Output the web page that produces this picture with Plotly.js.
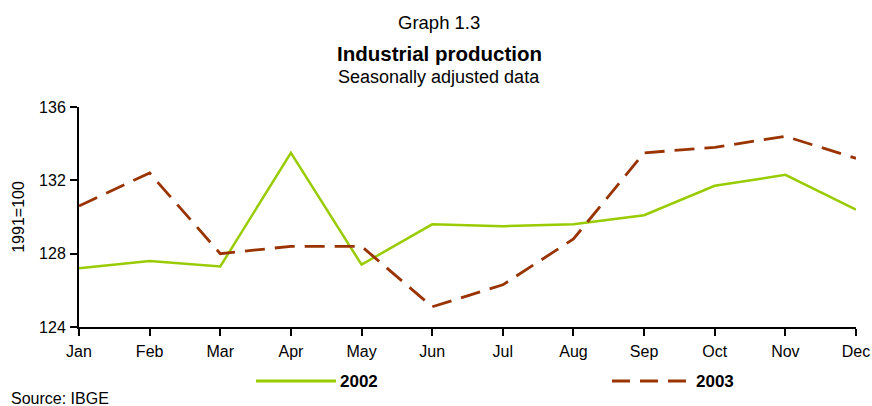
<!DOCTYPE html>
<html>
<head>
<meta charset="utf-8">
<script src="https://cdn.plot.ly/plotly-3.0.1.min.js"></script>
<style>
  html, body { margin: 0; padding: 0; background: #fff; }
  #chart { width: 872px; height: 406px; }
</style>
</head>
<body>
<div id="chart"></div>
<script>
// Industrial production index, seasonally adjusted (1991=100)
const months = ["Jan", "Feb", "Mar", "Apr", "May", "Jun", "Jul", "Aug", "Sep", "Oct", "Nov", "Dec"];
const prod2002 = [127.2, 127.6, 127.3, 133.5, 127.4, 129.6, 129.5, 129.6, 130.1, 131.7, 132.3, 130.4];
const prod2003 = [130.6, 132.4, 128.0, 128.4, 128.4, 125.1, 126.3, 128.8, 133.5, 133.8, 134.4, 133.2];
const yTicks = [124, 128, 132, 136];

const green = "#99CC00";
const brown = "#993300";
const font = "Liberation Sans, Arial, sans-serif";

// plot area in pixels, used to place the hand-drawn legend and header texts
const plotL = 79, plotW = 777, plotH = 220;
const px = v => (v - plotL) / plotW;

const traces = [
  {
    x: months, y: prod2002, name: "2002", type: "scatter", mode: "lines",
    line: { color: green, width: 2.5 }, showlegend: false
  },
  {
    x: months, y: prod2003, name: "2003", type: "scatter", mode: "lines",
    line: { color: brown, width: 2.8, dash: "20px,10px" }, showlegend: false
  }
];

const layout = {
  width: 872, height: 406,
  margin: { l: plotL, r: 16, t: 107, b: 79 },
  paper_bgcolor: "#fff", plot_bgcolor: "#fff",
  font: { family: font, size: 16, color: "#000" },
  xaxis: {
    type: "category", range: [0, 11],
    showline: true, linecolor: "#000", linewidth: 2,
    ticks: "outside", ticklen: 7, tickwidth: 2, tickcolor: "#000",
    showgrid: false, zeroline: false,
    tickfont: { family: font, size: 16 }, ticklabelstandoff: 2
  },
  yaxis: {
    range: [124, 136], tickvals: yTicks, ticktext: yTicks.map(String),
    showline: true, linecolor: "#000", linewidth: 2,
    ticks: "outside", ticklen: 7, tickwidth: 2, tickcolor: "#000",
    showgrid: false, zeroline: false,
    tickfont: { family: font, size: 16 }, ticklabelstandoff: 1,
    title: { text: "1991=100", font: { family: font, size: 16 }, standoff: 10 }
  },
  annotations: [
    { text: "Graph 1.3", xref: "paper", yref: "paper", x: px(439), y: 1, xanchor: "center", yanchor: "middle",
      yshift: 85, showarrow: false, font: { family: font, size: 18.5 } },
    { text: "<b>Industrial production</b>", xref: "paper", yref: "paper", x: px(439), y: 1, xanchor: "center", yanchor: "middle",
      yshift: 54, showarrow: false, font: { family: font, size: 20.5 } },
    { text: "Seasonally adjusted data", xref: "paper", yref: "paper", x: px(439), y: 1, xanchor: "center", yanchor: "middle",
      yshift: 30, showarrow: false, font: { family: font, size: 18 } },
    { text: "<b>2002</b>", xref: "paper", yref: "paper", x: px(338), y: 0, xanchor: "left", yanchor: "middle",
      yshift: -54, showarrow: false, font: { family: font, size: 17 } },
    { text: "<b>2003</b>", xref: "paper", yref: "paper", x: px(694), y: 0, xanchor: "left", yanchor: "middle",
      yshift: -54, showarrow: false, font: { family: font, size: 17 } },
    { text: "Source: IBGE", xref: "paper", yref: "paper", x: px(9), y: 0, xanchor: "left", yanchor: "middle",
      yshift: -71, showarrow: false, font: { family: font, size: 16 } }
  ],
  shapes: [
    { type: "line", xref: "paper", yref: "paper",
      x0: px(256), x1: px(336), y0: -54 / plotH, y1: -54 / plotH,
      line: { color: green, width: 3 } },
    { type: "line", xref: "paper", yref: "paper",
      x0: px(612), x1: px(686), y0: -54 / plotH, y1: -54 / plotH,
      line: { color: brown, width: 3, dash: "18px,10px" } }
  ]
};

Plotly.newPlot("chart", traces, layout, { displayModeBar: false, staticPlot: true });
</script>
</body>
</html>
